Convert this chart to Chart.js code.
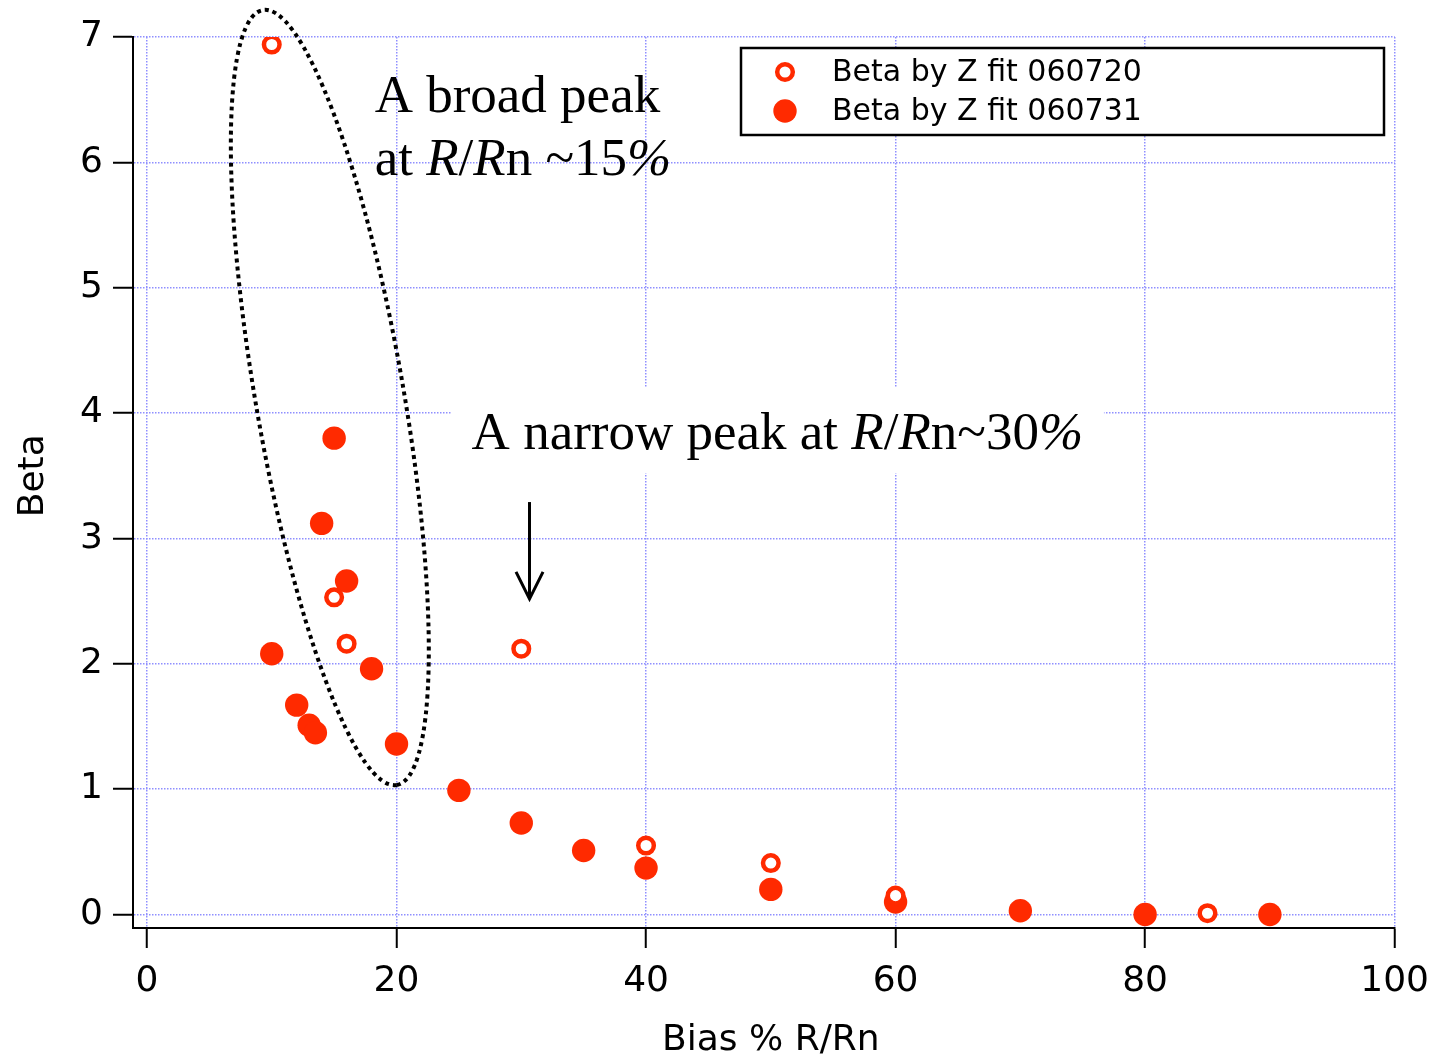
<!DOCTYPE html>
<html>
<head>
<meta charset="utf-8">
<script src="https://cdn.jsdelivr.net/npm/chart.js@4.4.1/dist/chart.umd.min.js"></script>
<style>
  html, body { margin: 0; padding: 0; background: #ffffff; }
  #wrap { width: 1441px; height: 1057px; position: relative; }
  canvas { display: block; }
</style>
</head>
<body>
<div id="wrap"><canvas id="c" width="1441" height="1057"></canvas></div>
<script>
// ---- data ----
const openLabel = 'Beta by Z fit 060720';
const openX = [10, 15, 16, 30, 40, 50, 60, 85];
const openY = [6.94, 2.53, 2.16, 2.12, 0.55, 0.41, 0.15, 0.01];

const filledLabel = 'Beta by Z fit 060731';
const filledX = [10, 12, 13, 13.5, 14, 15, 16, 18, 20, 25, 30, 35, 40, 50, 60, 70, 80, 90];
const filledY = [2.08, 1.67, 1.51, 1.45, 3.12, 3.80, 2.66, 1.96, 1.36, 0.99, 0.73, 0.51, 0.37, 0.20, 0.10, 0.03, 0.0, 0.0];

const xTicks = [0, 20, 40, 60, 80, 100];
const yTicks = [0, 1, 2, 3, 4, 5, 6, 7];

const xTitle = 'Bias % R/Rn';
const yTitle = 'Beta';

// annotation texts (segments: [text, italic])
const broadLine1 = [['A broad peak', false]];
const broadLine2 = [['at ', false], ['R', true], ['/', false], ['R', true], ['n ~15', false], ['%', true]];
const narrowLine = [['A narrow peak at ', false], ['R', true], ['/', false], ['R', true], ['n~30', false], ['%', true]];

// ---- helpers ----
const RED = '#ff2a00';
const toPts = (xs, ys) => xs.map((x, i) => ({x: x, y: ys[i]}));

// annotation anchors in data coordinates
const ANN = {
  broad1: {x: 18.25, y: 6.404},
  broad2: {x: 18.25, y: 5.899},
  narrow: {x: 26.02, y: 3.713},
  narrowBox: {x1: 24.38, y1: 4.2, x2: 76.7, y2: 3.52},
  ellipseTop: {x: 9.29, y: 7.215},
  ellipseBottom: {x: 20.02, y: 1.033},
  arrowX: 30.66, arrowTop: 3.29, arrowTip: 2.517
};

function drawSegments(ctx, segs, x, y, size) {
  let cx = x;
  for (const [t, it] of segs) {
    ctx.font = (it ? 'italic ' : '') + size + "px 'Liberation Serif', 'Times New Roman', serif";
    ctx.fillText(t, cx, y);
    cx += ctx.measureText(t).width;
  }
}

const annotationPlugin = {
  id: 'annotations',
  afterDatasetsDraw(chart) {
    const ctx = chart.ctx;
    const xs = chart.scales.x, ys = chart.scales.y;
    const px = v => xs.getPixelForValue(v), py = v => ys.getPixelForValue(v);
    ctx.save();

    // white box behind "narrow peak" text
    const b = ANN.narrowBox;
    ctx.fillStyle = '#ffffff';
    ctx.fillRect(px(b.x1), py(b.y1), px(b.x2) - px(b.x1), py(b.y2) - py(b.y1));

    // texts
    ctx.fillStyle = '#000000';
    ctx.textBaseline = 'alphabetic';
    ctx.textAlign = 'left';
    drawSegments(ctx, broadLine1, px(ANN.broad1.x), py(ANN.broad1.y), 53);
    drawSegments(ctx, broadLine2, px(ANN.broad2.x), py(ANN.broad2.y), 53);
    drawSegments(ctx, narrowLine, px(ANN.narrow.x), py(ANN.narrow.y), 53);

    // dotted ellipse
    const x1 = px(ANN.ellipseTop.x), y1 = py(ANN.ellipseTop.y);
    const x2 = px(ANN.ellipseBottom.x), y2 = py(ANN.ellipseBottom.y);
    const cx = (x1 + x2) / 2, cy = (y1 + y2) / 2;
    const a = Math.hypot(x2 - x1, y2 - y1) / 2;
    const ang = Math.atan2(y2 - y1, x2 - x1);
    ctx.beginPath();
    ctx.ellipse(cx, cy, a, 74, ang, 0, Math.PI * 2);
    ctx.strokeStyle = '#000000';
    ctx.lineWidth = 4;
    ctx.setLineDash([4, 4]);
    ctx.stroke();
    ctx.setLineDash([]);

    // arrow
    const ax = px(ANN.arrowX), at = py(ANN.arrowTop), tip = py(ANN.arrowTip);
    ctx.lineWidth = 3;
    ctx.beginPath();
    ctx.moveTo(ax, at);
    ctx.lineTo(ax, tip - 2);
    ctx.stroke();
    ctx.beginPath();
    ctx.moveTo(ax - 13.5, tip - 27);
    ctx.lineTo(ax, tip);
    ctx.lineTo(ax + 13.5, tip - 27);
    ctx.stroke();

    // axis titles
    ctx.fillStyle = '#000000';
    ctx.font = "36px 'DejaVu Sans', sans-serif";
    ctx.textAlign = 'center';
    ctx.textBaseline = 'alphabetic';
    ctx.fillText(xTitle, px(50), 1050);
    ctx.save();
    ctx.translate(43, py(3.5));
    ctx.rotate(-Math.PI / 2);
    ctx.fillText(yTitle, 0, 0);
    ctx.restore();

    // legend
    const L = {x: 741, y: 48, w: 643, h: 87};
    ctx.fillStyle = '#ffffff';
    ctx.fillRect(L.x, L.y, L.w, L.h);
    ctx.strokeStyle = '#000000';
    ctx.lineWidth = 2.5;
    ctx.strokeRect(L.x, L.y, L.w, L.h);
    const rows = [72, 111];
    chart.data.datasets.forEach((ds, i) => {
      const my = rows[i];
      ctx.beginPath();
      ctx.arc(785, my, ds.pointRadius, 0, Math.PI * 2);
      ctx.fillStyle = ds.pointBackgroundColor;
      ctx.fill();
      if (ds.pointBorderWidth > 0) {
        ctx.lineWidth = ds.pointBorderWidth;
        ctx.strokeStyle = ds.pointBorderColor;
        ctx.stroke();
      }
      ctx.fillStyle = '#000000';
      ctx.font = "30px 'DejaVu Sans', sans-serif";
      ctx.textAlign = 'left';
      ctx.textBaseline = 'middle';
      ctx.fillText(ds.label, 832, my + 1);
    });
    ctx.restore();
  }
};

const GRID = {
  color: '#8f8fff',
  lineWidth: 1.5,
  drawTicks: true,
  tickLength: 20,
  tickColor: '#000000',
  tickWidth: 2
};
const BORDER = { display: true, color: '#000000', width: 2, dash: [1.5, 1.5] };
const TICKFONT = { family: "'DejaVu Sans', sans-serif", size: 36 };

new Chart(document.getElementById('c'), {
  type: 'scatter',
  data: {
    datasets: [
      {
        label: openLabel,
        data: toPts(openX, openY),
        pointStyle: 'circle',
        pointRadius: 7.8,
        pointHoverRadius: 7.8,
        pointBorderWidth: 4.5,
        pointBorderColor: RED,
        pointBackgroundColor: '#ffffff',
        showLine: false
      },
      {
        label: filledLabel,
        data: toPts(filledX, filledY),
        pointStyle: 'circle',
        pointRadius: 11.7,
        pointHoverRadius: 11.7,
        pointBorderWidth: 0,
        pointBorderColor: RED,
        pointBackgroundColor: RED,
        showLine: false
      }
    ]
  },
  options: {
    responsive: false,
    devicePixelRatio: 1,
    animation: false,
    events: [],
    layout: { padding: { top: 37, right: 44.5, left: 0, bottom: 0 } },
    plugins: { legend: { display: false }, tooltip: { enabled: false } },
    scales: {
      x: {
        type: 'linear',
        min: -1.12,
        max: 100,
        afterBuildTicks: s => { s.ticks = xTicks.map(v => ({value: v})); },
        afterFit: s => { s.height = 129; },
        grid: GRID,
        border: BORDER,
        ticks: { color: '#000000', font: TICKFONT, padding: 12, maxRotation: 0, autoSkip: false }
      },
      y: {
        type: 'linear',
        min: -0.108,
        max: 7,
        afterBuildTicks: s => { s.ticks = yTicks.map(v => ({value: v})); },
        afterFit: s => { s.width = 133; },
        grid: GRID,
        border: BORDER,
        ticks: { color: '#000000', font: TICKFONT, padding: 10, autoSkip: false }
      }
    }
  },
  plugins: [annotationPlugin]
});
</script>
</body>
</html>
